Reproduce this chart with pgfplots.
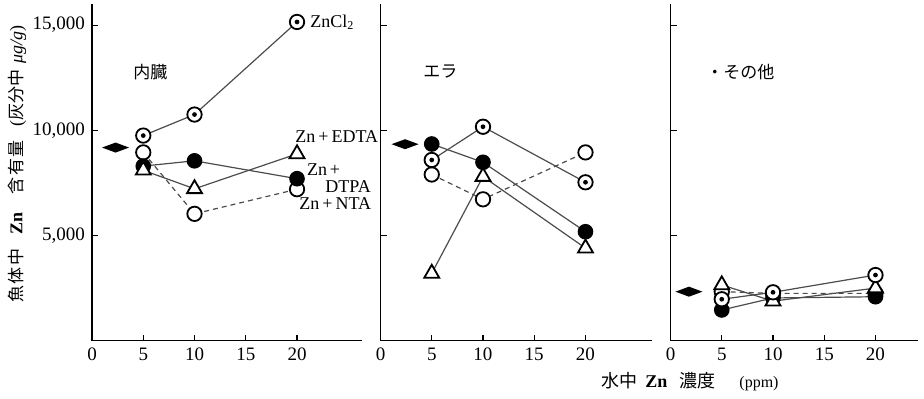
\documentclass[border=0pt]{standalone}
\usepackage{fontspec}
\setmainfont{Liberation Serif}
\newfontfamily\jp{Noto Sans CJK JP}
\usepackage{pgfplots}
\pgfplotsset{compat=1.18}
\pgfdeclareplotmark{odot}{%
  \pgfpathcircle{\pgfpointorigin}{\pgfplotmarksize}\pgfusepathqfillstroke
  \begin{pgfscope}\pgfsetfillcolor{black}%
  \pgfpathcircle{\pgfpointorigin}{0.33\pgfplotmarksize}\pgfusepathqfill
  \end{pgfscope}}
\pgfdeclareplotmark{flatdiamond}{%
  \pgfpathmoveto{\pgfqpoint{0pt}{\pgfplotmarksize}}%
  \pgfpathlineto{\pgfqpoint{2.7\pgfplotmarksize}{0pt}}%
  \pgfpathlineto{\pgfqpoint{0pt}{-\pgfplotmarksize}}%
  \pgfpathlineto{\pgfqpoint{-2.7\pgfplotmarksize}{0pt}}%
  \pgfpathclose\pgfusepathqfill}
\pgfplotsset{
  panel/.style={
    scale only axis, height=168.3pt, anchor=south west,
    xmin=0, ymin=0, ymax=16000,
    axis x line=bottom, axis y line=left, axis line style={-, line width=0.7pt},
    xtick={0,5,10,15,20}, ytick={5000,10000,15000},
    tick align=inside, major tick length=3pt, tick style={line width=0.6pt, black},
    /pgf/number format/assume math mode=true,
    ticklabel style={font=\fontsize{9.5}{10}\selectfont},
    clip=false,
  },
  ser/.style={line width=0.6pt, color=black!70, mark options={solid, line width=0.9pt, draw=black, fill=white}},
  zncl/.style={ser, mark=odot, mark size=3.6pt},
  edta/.style={ser, mark=triangle*, mark size=4.3pt},
  dtpa/.style={ser, mark=*, mark size=3.6pt, mark options={solid, draw=black, fill=black}},
  nta/.style={ser, dash pattern=on 2.5pt off 2pt, mark=*, mark size=3.6pt},
  ctrl/.style={only marks, mark=flatdiamond, mark size=2.5pt, black},
}
\begin{document}
\begin{tikzpicture}
\useasboundingbox (0,0) rectangle (462pt,199.5pt);
% Panel 1: 内臓
\begin{axis}[panel, at={(46pt,29.15pt)}, width=134.8pt, xmax=26.3,
  yticklabels={{5,000},{10,000},{15,000}}]
\addplot[nta] coordinates {(5,8950) (10,6030) (20,7200)};
\addplot[dtpa] coordinates {(5,8300) (10,8550) (20,7700)};
\addplot[edta] coordinates {(5,8100) (10,7220) (20,8880)};
\addplot[zncl] coordinates {(5,9750) (10,10750) (20,15150)};
\addplot[ctrl] coordinates {(2.3,9180)};
\end{axis}
% Panel 2: エラ
\begin{axis}[panel, at={(190.25pt,29.15pt)}, width=135.8pt, xmax=26.5, yticklabel=\empty]
\addplot[nta] coordinates {(5,7900) (10,6720) (20,8950)};
\addplot[edta] coordinates {(5,3200) (10,7800) (20,4400)};
\addplot[dtpa] coordinates {(5,9350) (10,8480) (20,5180)};
\addplot[zncl] coordinates {(5,8590) (10,10170) (20,7530)};
\addplot[ctrl] coordinates {(2.4,9340)};
\end{axis}
% Panel 3: その他
\begin{axis}[panel, at={(335.25pt,29.15pt)}, width=123.5pt, xmax=24.1, yticklabel=\empty]
\addplot[nta] coordinates {(5,2330) (10,2250) (20,2250)};
\addplot[dtpa] coordinates {(5,1460) (10,2030) (20,2090)};
\addplot[edta] coordinates {(5,2650) (10,1880) (20,2500)};
\addplot[zncl] coordinates {(5,1970) (10,2300) (20,3120)};
\addplot[ctrl] coordinates {(1.8,2330)};
\end{axis}
% labels
\begin{scope}[every node/.style={inner sep=0pt, font=\fontsize{9}{10}\selectfont}]
\node[anchor=west] at (155pt,188.15pt) {ZnCl\textsubscript{2}};
\node[anchor=west] at (147.5pt,131.15pt) {Zn\,+\,EDTA};
\node[anchor=west] at (153.3pt,114.5pt) {Zn\,+};
\node[anchor=west] at (162.5pt,106.15pt) {DTPA};
\node[anchor=west] at (149.5pt,97.5pt) {Zn\,+\,NTA};
\node[anchor=west, font=\jp\fontsize{8.5}{10}\selectfont] at (66.5pt,163.5pt) {内臓};
\node[anchor=west, font=\jp\fontsize{8.5}{10}\selectfont] at (211.5pt,163.5pt) {エラ};
\node[anchor=west, font=\jp\fontsize{8.5}{10}\selectfont] at (353pt,163.5pt) {・その他};
\node at (345pt,8.5pt) {{\jp 水中}\hspace{4pt}\textbf{Zn}\hspace{6pt}{\jp 濃度}\hspace{12pt}{\fontsize{8}{9}\selectfont(ppm)}};
\node[rotate=90] at (8.5pt,117.5pt) {{\jp\fontsize{8.5}{10}\selectfont 魚\hspace{0.8pt}体\hspace{0.8pt}中}\hspace{7pt}\textbf{Zn}\hspace{9pt}{\jp\fontsize{8.5}{10}\selectfont 含\hspace{0.8pt}有\hspace{0.8pt}量}\hspace{7pt}({\jp\fontsize{8.5}{10}\selectfont 灰分中}\hspace{3pt}\textit{μg/g})};
\end{scope}
\end{tikzpicture}
\end{document}
